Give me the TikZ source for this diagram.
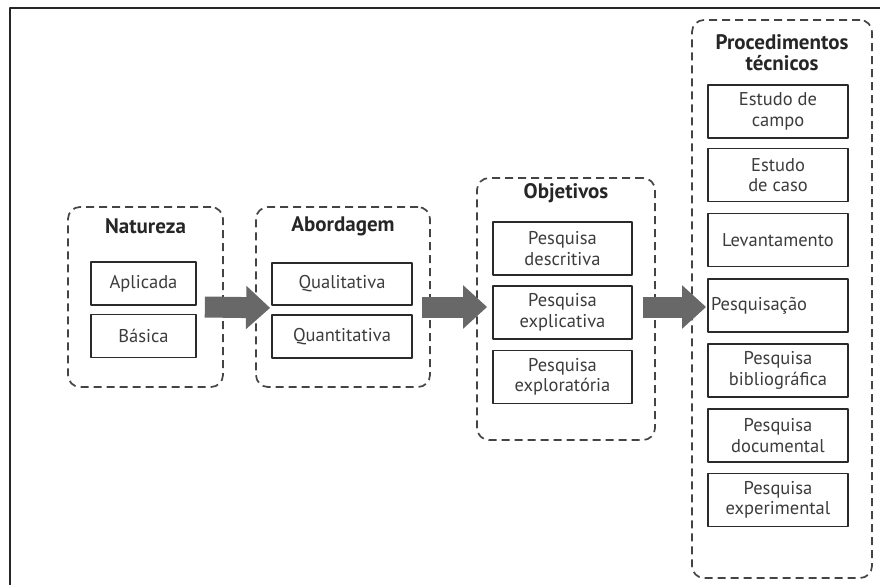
\documentclass[tikz,border=0pt]{standalone}
\usepackage{fontspec}
\setmainfont{PT Sans}
\usetikzlibrary{arrows.meta,calc}
\definecolor{ctexto}{HTML}{3C3C3C}
\definecolor{cborda}{HTML}{2A2A2A}
\definecolor{ctrace}{HTML}{444444}
\definecolor{cseta}{HTML}{686868}
\begin{document}
\begin{tikzpicture}[x=1pt,y=-1pt, font=\fontsize{18.5}{20.5}\selectfont, line join=round,
	grupo/.style={draw=ctrace, dash pattern=on 8pt off 5pt, line width=1.7pt, rounded corners=12pt, inner sep=0pt},
	caixa/.style={draw=cborda, line width=1.8pt, inner sep=0pt, align=center, text=ctexto, minimum height=53pt},
	titulo/.style={font=\fontsize{21}{21.5}\selectfont\bfseries, text=black!85, align=center},
	seta/.style={line width=21pt, draw=cseta, -{Triangle[length=24pt,width=42pt]}}]
	\useasboundingbox (0,0) rectangle (880,585);
	\clip (0,0) rectangle (880,585);
	\draw[line width=1.8pt, draw=black!85] (10,8) rectangle (900,600); % moldura
	% Natureza
	\node[grupo, minimum width=155pt, minimum height=180pt] (nat) at (145.5,297) {};
	\node[titulo] (tnat) at (145.5,226) {Natureza};
	\node[caixa, minimum width=105pt, minimum height=43pt] (apl) at (143.5,283.5) {Aplicada};
	\node[caixa, minimum width=105pt, minimum height=43pt] (bas) at (143.5,336) {Básica};
	% Abordagem
	\node[grupo, minimum width=174pt, minimum height=180pt] (abo) at (343,297) {};
	\node[titulo] (tabo) at (343,226) {Abordagem};
	\node[caixa, minimum width=140pt, minimum height=42pt] (qual) at (342,284) {Qualitativa};
	\node[caixa, minimum width=140pt, minimum height=43pt] (quan) at (342,336.5) {Quantitativa};
	% Objetivos
	\node[grupo, minimum width=178pt, minimum height=262pt] (obj) at (566,309) {};
	\node[titulo] (tobj) at (566,193) {Objetivos};
	\node[caixa, minimum width=139pt] (desc) at (562.5,248.5) {Pesquisa\\descritiva};
	\node[caixa, minimum width=139pt] (expl) at (562.5,312.5) {Pesquisa\\explicativa};
	\node[caixa, minimum width=139pt] (expo) at (562.5,377) {Pesquisa\\exploratória};
	% Procedimentos tecnicos
	\node[grupo, minimum width=180pt, minimum height=558pt] (proc) at (782,299) {};
	\node[titulo] (tproc) at (782,52.5) {Procedimentos\\técnicos};
	\node[caixa, minimum width=140pt] (camp) at (778,111.5) {Estudo de\\campo};
	\node[caixa, minimum width=140pt] (caso) at (778,175) {Estudo\\de caso};
	\node[caixa, minimum width=140pt] (leva) at (778,240) {Levantamento};
	\node[caixa, minimum width=140pt, text width=134pt, align=left] (pqs) at (778,305.5) {Pesquisação};
	\node[caixa, minimum width=140pt] (bibl) at (778,370.5) {Pesquisa\\bibliográfica};
	\node[caixa, minimum width=140pt] (docu) at (778,435.5) {Pesquisa\\documental};
	\node[caixa, minimum width=140pt] (expe) at (778,500) {Pesquisa\\experimental};
	% setas
	\draw[seta] ($(nat.east)+(-19,10)$) -- ($(qual.south west)+(-1,2)$);
	\draw[seta] ($(abo.east)+(-9,10)$) -- ($(expl.west)+(-5,-5.5)$);
	\draw[seta] ($(obj.east)+(-13,-2)$) -- ($(pqs.west)+(-1,1.5)$);
\end{tikzpicture}
\end{document}
